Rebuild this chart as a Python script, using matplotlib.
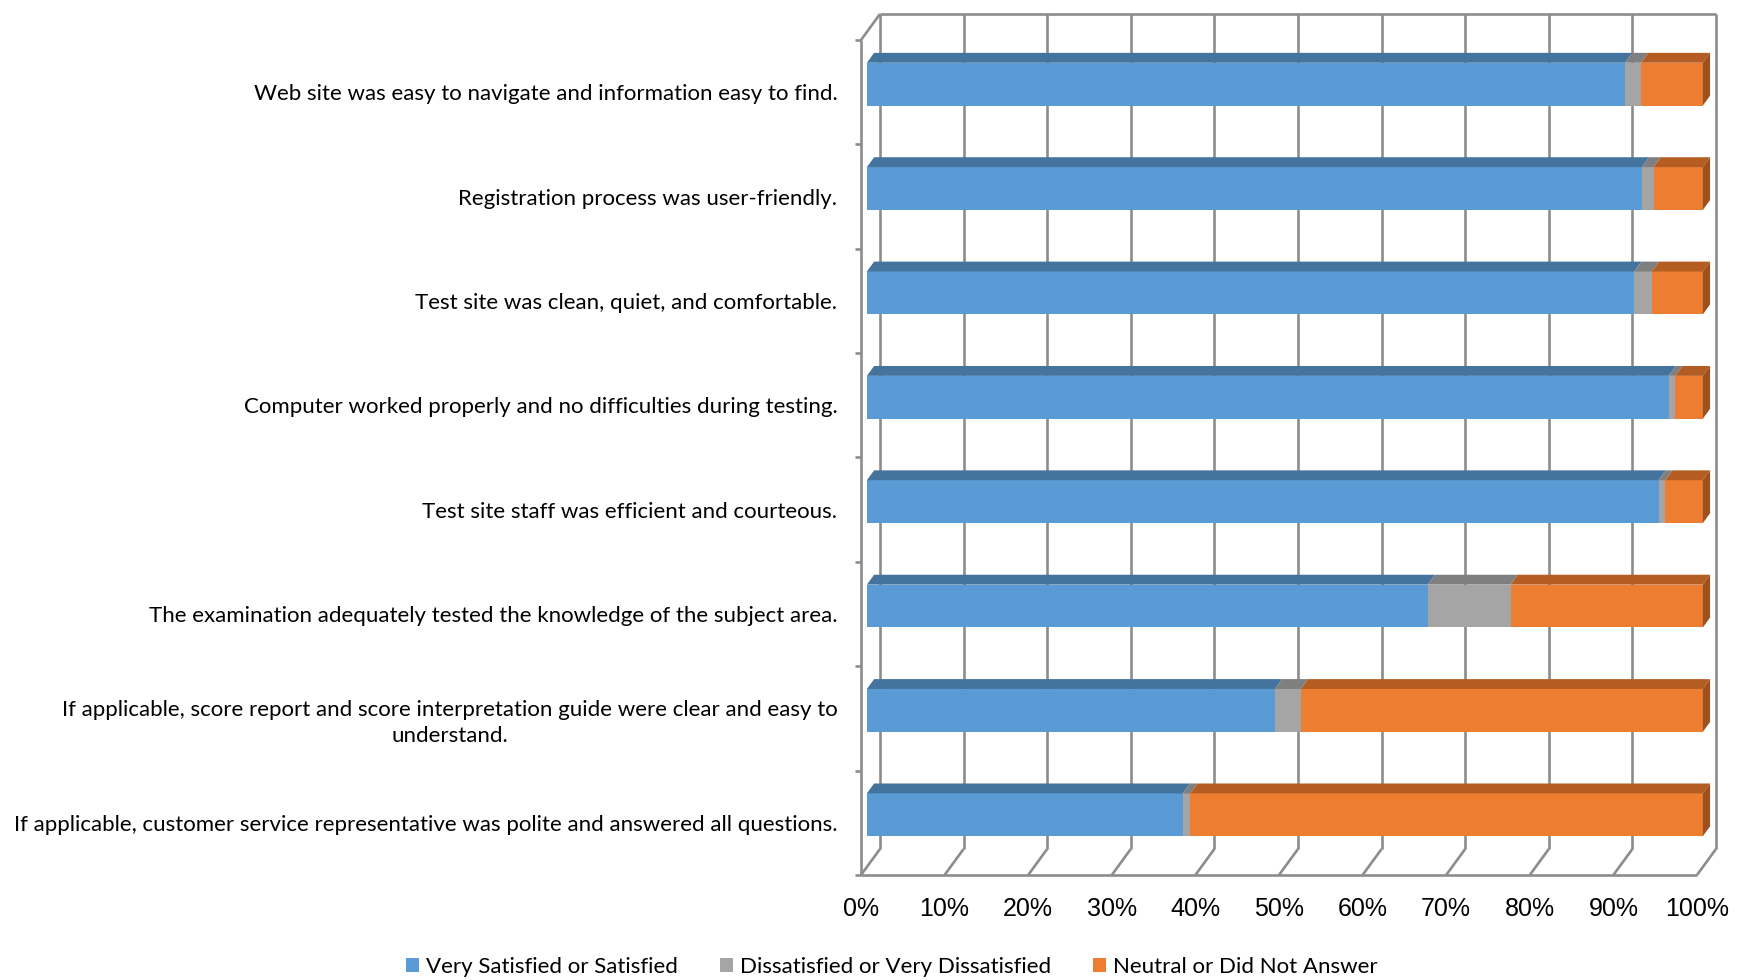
import numpy as np
import matplotlib
matplotlib.use("Agg")
import matplotlib.pyplot as plt
from matplotlib.patches import Polygon, Patch

categories = [
    "Web site was easy to navigate and information easy to find.",
    "Registration process was user-friendly.",
    "Test site was clean, quiet, and comfortable.",
    "Computer worked properly and no difficulties during testing.",
    "Test site staff was efficient and courteous.",
    "The examination adequately tested the knowledge of the subject area.",
    "If applicable, score report and score interpretation guide were clear and easy to\nunderstand.",
    "If applicable, customer service representative was polite and answered all questions.",
]
satisfied = [90.7, 92.7, 91.8, 95.9, 94.7, 67.1, 48.8, 37.8]
dissatisfied = [1.9, 1.4, 2.1, 0.8, 0.8, 9.9, 3.1, 0.9]
neutral = [7.4, 5.9, 6.1, 3.3, 4.5, 23.0, 48.1, 61.3]
series_names = ["Very Satisfied or Satisfied", "Dissatisfied or Very Dissatisfied",
                "Neutral or Did Not Answer"]
x_ticks = list(range(0, 101, 10))

# front / top / side shades for each series
shades = [("#5B9BD5", "#44749E", "#3E6A91"),
          ("#A5A5A5", "#7F7F7F", "#747474"),
          ("#ED7D31", "#B45D22", "#9C511F")]

LABEL_FONT = ["Lato", "DejaVu Sans"]
TICK_FONT = ["Liberation Sans", "DejaVu Sans"]

# oblique depth of the box in data units, and where the bars sit inside it
DX, DY = 2.27, -0.249
F0, F1 = 0.31, 0.69
BAR_H = 0.41
GRID = "#8C8C8C"

fig = plt.figure(figsize=(17.47, 9.80), dpi=100)
ax = fig.add_axes([861 / 1747, 105 / 980, 836 / 1747, 835 / 980])
ax.set_xlim(0, 100)
ax.set_ylim(len(categories) - 0.5, -0.5)
for s in ax.spines.values():
    s.set_visible(False)

y_top, y_bot = -0.5, len(categories) - 0.5
line_kw = dict(color=GRID, lw=1.9, clip_on=False, solid_capstyle="butt", zorder=1)

# back wall gridlines and top edge
for t in x_ticks:
    ax.plot([t + DX, t + DX], [y_top + DY, y_bot + DY], **line_kw)
ax.plot([DX, 100 + DX], [y_top + DY, y_top + DY], **line_kw)
# left wall
ax.plot([0, 0], [y_top, y_bot], **line_kw)
ax.plot([0, DX], [y_top, y_top + DY], **line_kw)
# floor
ax.plot([0, 100], [y_bot, y_bot], **line_kw)
for t in x_ticks:
    ax.plot([t, t + DX], [y_bot, y_bot + DY], **line_kw)
# category ticks on the left axis
for k in range(len(categories) + 1):
    ax.plot([-0.72, 0], [y_top + k, y_top + k], **line_kw)

# stacked 3d-looking bars
stack = np.array([satisfied, dissatisfied, neutral])
for i in range(len(categories)):
    yc = i + F0 * DY
    top, bot = yc - BAR_H / 2, yc + BAR_H / 2
    ddx, ddy = (F1 - F0) * DX, (F1 - F0) * DY
    left = 0.0
    for j in range(3):
        right = left + stack[j, i]
        fx0, fx1 = left + F0 * DX, right + F0 * DX
        front, topc, side = shades[j]
        ax.add_patch(Polygon([(fx0, top), (fx1, top), (fx1, bot), (fx0, bot)],
                             closed=True, fc=front, ec="none", clip_on=False, zorder=3))
        ax.add_patch(Polygon([(fx0, top), (fx1, top), (fx1 + ddx, top + ddy), (fx0 + ddx, top + ddy)],
                             closed=True, fc=topc, ec="none", clip_on=False, zorder=3))
        if j == 2:
            ax.add_patch(Polygon([(fx1, top), (fx1 + ddx, top + ddy), (fx1 + ddx, bot + ddy), (fx1, bot)],
                                 closed=True, fc=side, ec="none", clip_on=False, zorder=3))
        left = right

ax.set_yticks(range(len(categories)))
ax.set_yticklabels(categories, family=LABEL_FONT, fontsize=16)
for lbl in ax.get_yticklabels():
    lbl.set_multialignment("center")
    lbl.set_linespacing(1.36)
ax.set_xticks(x_ticks)
ax.set_xticklabels([f"{t}%" for t in x_ticks], family=TICK_FONT, fontsize=18)
ax.tick_params(axis="y", length=0, pad=17)
ax.tick_params(axis="x", length=0, pad=16)

handles = [Patch(fc=shades[j][0], ec="none") for j in range(3)]
fig.legend(handles, series_names, loc="center", bbox_to_anchor=(892 / 1747, 13 / 980),
           ncol=3, frameon=False, prop={"family": LABEL_FONT, "size": 16},
           handlelength=0.56, handleheight=0.56, handletextpad=0.33, columnspacing=1.9)

fig.savefig("out.png", dpi=100)
